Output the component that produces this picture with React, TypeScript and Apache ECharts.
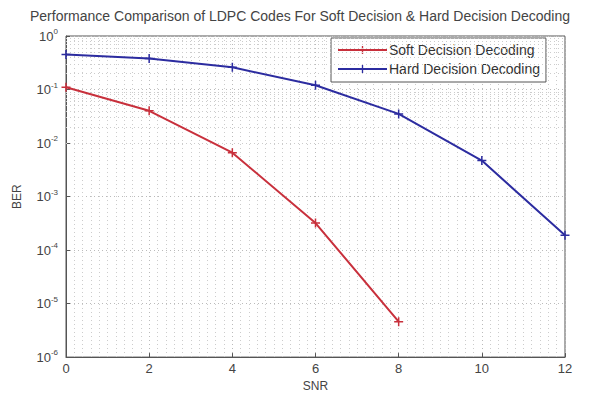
import React, { useEffect, useRef } from "react";
import * as echarts from "echarts";

const snrSoft = [0, 2, 4, 6, 8];
const berSoft = [0.11, 0.04, 0.0066, 0.00032, 0.0000046];
const snrHard = [0, 2, 4, 6, 8, 10, 12];
const berHard = [0.45, 0.38, 0.26, 0.12, 0.035, 0.0047, 0.00019];
const yDecades = [1e-6, 1e-5, 1e-4, 1e-3, 1e-2, 1e-1, 1];
const titleText = "Performance Comparison of LDPC Codes For Soft Decision & Hard Decision Decoding";
const softName = "Soft Decision Decoding";
const hardName = "Hard Decision Decoding";

const plusSymbol = "path://M4,0h1.6v4h4v1.6h-4v4h-1.6v-4h-4v-1.6h4z";

export default function App() {
  const ref = useRef<HTMLDivElement>(null);
  useEffect(() => {
    if (!ref.current) return;
    const chart = echarts.init(ref.current, null, { renderer: "svg" });
    const minorY: number[] = [];
    yDecades.slice(0, -1).forEach((d) => {
      for (let k = 2; k <= 9; k++) minorY.push(d * k);
    });
    const font = "'Liberation Sans', Arial, sans-serif";
    chart.setOption({
      animation: false,
      backgroundColor: "#ffffff",
      textStyle: { fontFamily: font },
      title: {
        text: titleText,
        left: "center",
        top: 4,
        textStyle: { fontSize: 14, fontWeight: "normal", color: "#444", fontFamily: font },
      },
      legend: {
        left: 331,
        top: 38,
        orient: "vertical",
        width: 216,
        itemWidth: 49,
        itemHeight: 10,
        itemGap: 5,
        padding: [5, 6, 6, 6],
        backgroundColor: "#ffffff",
        borderColor: "#555",
        borderWidth: 1,
        textStyle: { fontSize: 14, color: "#333", fontFamily: font, padding: [0, 0, 0, -3] },
        data: [softName, hardName],
      },
      grid: {
        left: 66,
        right: 35,
        top: 36,
        bottom: 34,
        show: true,
        borderColor: "#555",
        borderWidth: 1,
        backgroundColor: "transparent",
      },
      xAxis: {
        type: "value",
        min: 0,
        max: 12,
        interval: 2,
        name: "SNR",
        nameLocation: "middle",
        nameGap: 21,
        nameTextStyle: { fontSize: 12, color: "#444" },
        axisLine: { show: true, lineStyle: { color: "#555" } },
        axisTick: { show: true, inside: true, length: 4, lineStyle: { color: "#555" } },
        axisLabel: { fontSize: 13, color: "#444", margin: 5 },
        splitLine: { show: true, lineStyle: { color: "#bbb", type: [1, 3], width: 1 } },
        minorTick: { show: false, splitNumber: 10 },
        minorSplitLine: { show: true, lineStyle: { color: "#ccc", type: [1, 3], width: 1 } },
      },
      yAxis: {
        type: "log",
        logBase: 10,
        min: 1e-6,
        max: 1,
        name: "BER",
        nameLocation: "middle",
        nameGap: 43,
        nameTextStyle: { fontSize: 12, color: "#444" },
        axisLine: { show: true, lineStyle: { color: "#555" } },
        axisTick: { show: true, inside: true, length: 4, lineStyle: { color: "#555" } },
        axisLabel: {
          color: "#444",
          margin: 8,
          formatter: (v: number) => "{b|10}{s|" + Math.round(Math.log10(v)) + "}",
          rich: {
            b: { fontSize: 13, color: "#444", fontFamily: font },
            s: { fontSize: 8, color: "#444", verticalAlign: "top", padding: [0, 0, 9, 0], fontFamily: font },
          },
        },
        splitLine: { show: true, lineStyle: { color: "#bbb", type: [1, 3], width: 1 } },
      },
      series: [
        {
          name: "minor",
          type: "line",
          data: [],
          silent: true,
          markLine: {
            silent: true,
            symbol: "none",
            label: { show: false },
            lineStyle: { color: "#ccc", type: [1, 3], width: 1 },
            data: minorY.map((v) => ({ yAxis: v })),
          },
        },
        {
          name: softName,
          type: "line",
          data: snrSoft.map((x, i) => [x, berSoft[i]]),
          symbol: plusSymbol,
          symbolSize: 9,
          lineStyle: { color: "#c8303c", width: 2 },
          itemStyle: { color: "#c8303c" },
          z: 5,
        },
        {
          name: hardName,
          type: "line",
          data: snrHard.map((x, i) => [x, berHard[i]]),
          symbol: plusSymbol,
          symbolSize: 9,
          lineStyle: { color: "#2c2ca0", width: 2 },
          itemStyle: { color: "#2c2ca0" },
          z: 5,
        },
      ],
    });
    return () => chart.dispose();
  }, []);
  return <div ref={ref} style={{ width: 600, height: 397, position: "absolute", left: 0, top: 0 }} />;
}
